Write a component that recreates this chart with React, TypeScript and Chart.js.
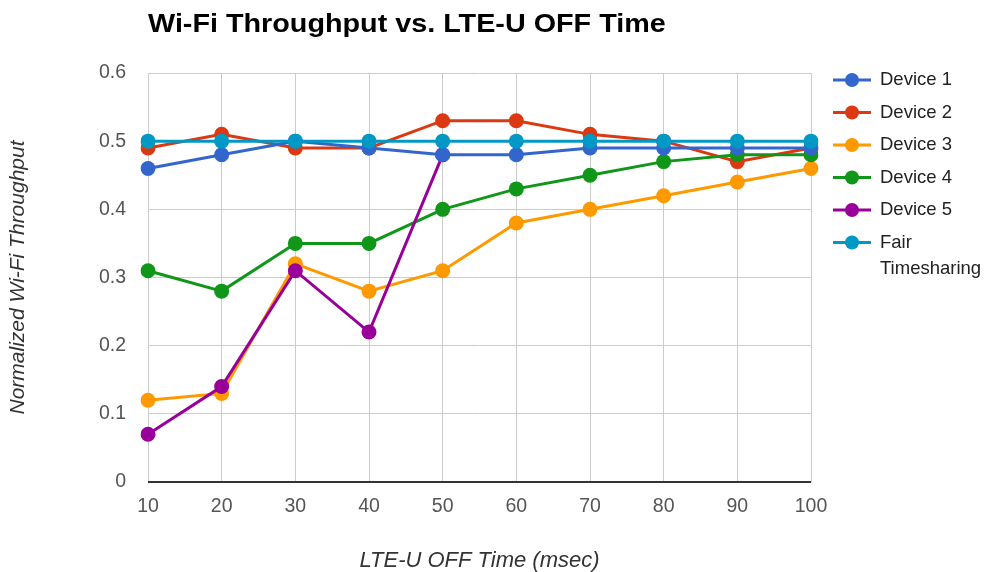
import { useEffect, useRef } from "react";
import Chart from "chart.js/auto";

const categories = ["10", "20", "30", "40", "50", "60", "70", "80", "90", "100"];
const device1 = [0.46, 0.48, 0.5, 0.49, 0.48, 0.48, 0.49, 0.49, 0.49, 0.49];
const device2 = [0.49, 0.51, 0.49, 0.49, 0.53, 0.53, 0.51, 0.5, 0.47, 0.49];
const device3 = [0.12, 0.13, 0.32, 0.28, 0.31, 0.38, 0.4, 0.42, 0.44, 0.46];
const device4 = [0.31, 0.28, 0.35, 0.35, 0.4, 0.43, 0.45, 0.47, 0.48, 0.48];
const device5 = [0.07, 0.14, 0.31, 0.22, 0.48, null, null, null, null, null];
const fairTimesharing = [0.5, 0.5, 0.5, 0.5, 0.5, 0.5, 0.5, 0.5, 0.5, 0.5];

const seriesNames = ["Device 1", "Device 2", "Device 3", "Device 4", "Device 5", "Fair Timesharing"];
const seriesColors = ["#3366cc", "#dc3912", "#ff9900", "#109618", "#990099", "#0099c6"];
const seriesOrder = [1, 5, 4, 3, 2, 0];
const chartTitle = "Wi-Fi Throughput vs. LTE-U OFF Time";
const xTitle = "LTE-U OFF Time (msec)";
const yTitle = "Normalized Wi-Fi Throughput";

const FONT = "'Liberation Sans', Arial, sans-serif";

const titleLegendPlugin = {
  id: "titleLegend",
  afterDraw(chart: any) {
    const ctx = chart.ctx;
    const area = chart.chartArea;
    ctx.save();
    // title (slightly widened like the reference)
    ctx.save();
    ctx.font = `bold 25px ${FONT}`;
    ctx.fillStyle = "#000";
    ctx.textAlign = "left";
    ctx.textBaseline = "alphabetic";
    ctx.translate(area.left, 32);
    ctx.scale(1.15, 1);
    ctx.fillText(chartTitle, 0, 0);
    ctx.restore();
    // legend
    const lx = 833;
    const tx = 880;
    let y = 80;
    ctx.font = `18.5px ${FONT}`;
    ctx.textAlign = "left";
    ctx.textBaseline = "middle";
    chart.data.datasets.forEach((ds: any) => {
      const color = ds.borderColor;
      ctx.strokeStyle = color;
      ctx.lineWidth = 3;
      ctx.beginPath();
      ctx.moveTo(lx, y);
      ctx.lineTo(lx + 38, y);
      ctx.stroke();
      ctx.fillStyle = color;
      ctx.beginPath();
      ctx.arc(lx + 19, y, 7, 0, Math.PI * 2);
      ctx.fill();
      ctx.fillStyle = "#222";
      const words = String(ds.label).split(" ");
      const lines: string[] = [];
      let cur = "";
      words.forEach((w) => {
        const test = cur ? cur + " " + w : w;
        if (cur && ctx.measureText(test).width > 988 - tx - 4) {
          lines.push(cur);
          cur = w;
        } else cur = test;
      });
      if (cur) lines.push(cur);
      lines.forEach((ln, i) => ctx.fillText(ln, tx, y + i * 26));
      y += 32.5 + (lines.length - 1) * 26;
    });
    ctx.restore();
  },
};

export default function App() {
  const ref = useRef<HTMLCanvasElement>(null);
  useEffect(() => {
    if (!ref.current) return;
    Chart.defaults.font.family = FONT;
    const data = [device1, device2, device3, device4, device5, fairTimesharing];
    const chart = new Chart(ref.current, {
      type: "line",
      data: {
        labels: categories,
        datasets: data.map((d, i) => ({
          label: seriesNames[i],
          data: d,
          borderColor: seriesColors[i],
          backgroundColor: seriesColors[i],
          pointBackgroundColor: seriesColors[i],
          pointBorderColor: seriesColors[i],
          borderWidth: 3,
          pointRadius: 7.5,
          pointBorderWidth: 0,
          tension: 0,
          order: seriesOrder[i],
          spanGaps: false,
        })),
      },
      plugins: [titleLegendPlugin],
      options: {
        animation: false,
        responsive: false,
        devicePixelRatio: 1,
        layout: { padding: { left: 0, top: 73, right: 177, bottom: 0 } },
        plugins: {
          legend: { display: false },
          title: { display: false },
          tooltip: { enabled: false },
        },
        scales: {
          x: {
            type: "category",
            grid: { color: "#cccccc", drawTicks: false },
            border: { display: false },
            ticks: { color: "#555", font: { size: 19.5 }, padding: 13, maxRotation: 0 },
            title: {
              display: true,
              text: xTitle,
              color: "#333",
              font: { size: 22, style: "italic", lineHeight: 1 },
              padding: { top: 0, bottom: 0 },
            },
            afterFit: (s: any) => {
              s.height = 90;
            },
          },
          y: {
            min: 0,
            max: 0.6,
            ticks: { stepSize: 0.1, color: "#555", font: { size: 19.5 }, padding: 22 },
            grid: {
              drawTicks: false,
              color: (c: any) => (c.tick && c.tick.value === 0 ? "#333333" : "#cccccc"),
              lineWidth: (c: any) => (c.tick && c.tick.value === 0 ? 2 : 1),
            },
            border: { display: false },
            title: {
              display: true,
              text: yTitle,
              color: "#333",
              font: { size: 21, style: "italic", lineHeight: 1 },
              padding: { top: 7.5, bottom: 0 },
            },
            afterFit: (s: any) => {
              s.width = 148;
            },
          },
        },
      },
    });
    return () => chart.destroy();
  }, []);
  return (
    <div style={{ position: "absolute", left: 0, top: 0, width: 988, height: 572, background: "#fff" }}>
      <canvas ref={ref} width={988} height={572} />
    </div>
  );
}
